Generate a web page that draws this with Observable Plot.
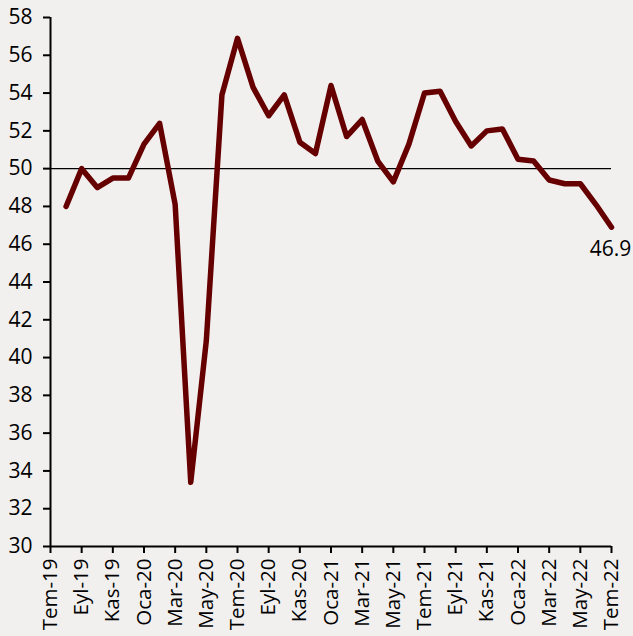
<!DOCTYPE html>
<html>
<head>
<meta charset="utf-8">
<script src="https://cdn.jsdelivr.net/npm/d3@7"></script>
<script src="https://cdn.jsdelivr.net/npm/@observablehq/plot@0.6"></script>
<style>
  html, body { margin: 0; padding: 0; background: #f2f0ef; }
  #chart { width: 633px; height: 636px; }
</style>
</head>
<body>
<div id="chart"></div>
<script>
// Monthly axis categories (Tem-19 .. Tem-22)
const months = [
  "Tem-19","Ağu-19","Eyl-19","Eki-19","Kas-19","Ara-19",
  "Oca-20","Şub-20","Mar-20","Nis-20","May-20","Haz-20",
  "Tem-20","Ağu-20","Eyl-20","Eki-20","Kas-20","Ara-20",
  "Oca-21","Şub-21","Mar-21","Nis-21","May-21","Haz-21",
  "Tem-21","Ağu-21","Eyl-21","Eki-21","Kas-21","Ara-21",
  "Oca-22","Şub-22","Mar-22","Nis-22","May-22","Haz-22",
  "Tem-22"
];
// Series values, Ağu-19 .. Tem-22
const pmiMonths = months.slice(1);
const pmiValues = [
  48.0, 50.0, 49.0, 49.5, 49.5,
  51.3, 52.4, 48.1, 33.4, 40.9, 53.9,
  56.9, 54.3, 52.8, 53.9, 51.4, 50.8,
  54.4, 51.7, 52.6, 50.4, 49.3, 51.3,
  54.0, 54.1, 52.5, 51.2, 52.0, 52.1,
  50.5, 50.4, 49.4, 49.2, 49.2, 48.1,
  46.9
];
const tickMonths = months.filter((d, i) => i % 2 === 0);
const yTicks = d3.range(30, 59, 2);
const threshold = 50;

const data = pmiValues.map((v, i) => ({ m: pmiMonths[i], v }));
const last = data[data.length - 1];

const font = "'Open Sans', 'Noto Sans', sans-serif";

const chart = Plot.plot({
  width: 633,
  height: 636,
  marginLeft: 50,
  marginRight: 22,
  marginTop: 17,
  marginBottom: 90,
  style: { background: "#f2f0ef", fontFamily: font, color: "#000" },
  x: { type: "point", domain: months, padding: 0, round: false },
  y: { domain: [30, 58] },
  marks: [
    Plot.ruleY([threshold], { stroke: "#000", strokeWidth: 1.2 }),
    Plot.axisY({ ticks: yTicks, tickSize: 7, tickPadding: 11, fontSize: 21, strokeWidth: 2, stroke: "#000", fill: "#000", label: null }),
    Plot.axisX({ ticks: tickMonths, tickSize: 7, tickPadding: 5, tickRotate: -90, fontSize: 20.5, strokeWidth: 2, stroke: "#000", fill: "#000", label: null }),
    Plot.ruleX([months[0]], { stroke: "#000", strokeWidth: 2 }),
    Plot.ruleY([30], { stroke: "#000", strokeWidth: 2 }),
    Plot.line(data, { x: "m", y: "v", stroke: "#660000", strokeWidth: 5.5, strokeLinejoin: "round", strokeLinecap: "round" }),
    Plot.text([last], { x: "m", y: "v", text: d => d.v.toFixed(1), dy: 22, dx: -1, textAnchor: "middle", fontSize: 21, fill: "#000" })
  ]
});
document.getElementById("chart").appendChild(chart);
</script>
</body>
</html>
